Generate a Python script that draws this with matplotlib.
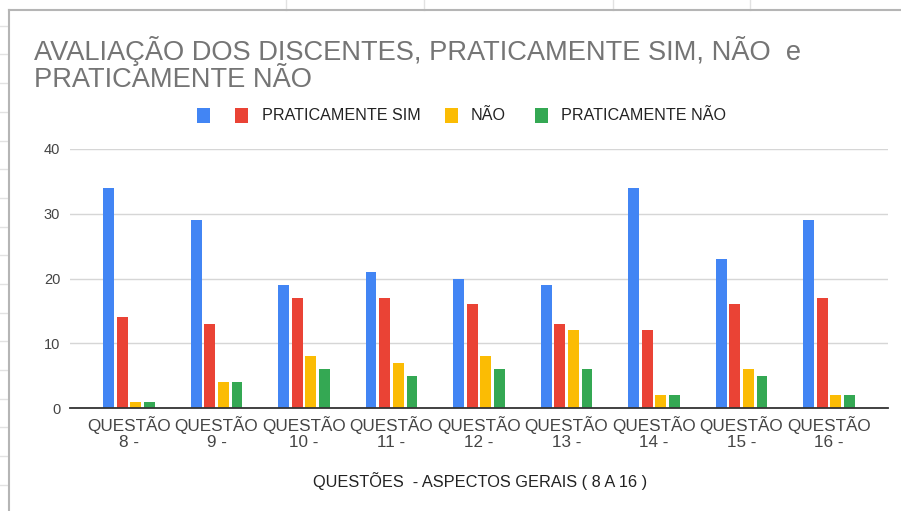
import matplotlib
matplotlib.use("Agg")
import matplotlib.pyplot as plt
import numpy as np
from matplotlib.patches import Rectangle

categories = ["QUESTÃO\n8 -", "QUESTÃO\n9 -", "QUESTÃO\n10 -", "QUESTÃO\n11 -",
              "QUESTÃO\n12 -", "QUESTÃO\n13 -", "QUESTÃO\n14 -", "QUESTÃO\n15 -",
              "QUESTÃO\n16 -"]
series_names = ["", "PRATICAMENTE SIM", "NÃO", "PRATICAMENTE NÃO"]
blue_vals = [34, 29, 19, 21, 20, 19, 34, 23, 29]
red_vals = [14, 13, 17, 17, 16, 13, 12, 16, 17]
yellow_vals = [1, 4, 8, 7, 8, 12, 2, 6, 2]
green_vals = [1, 4, 6, 5, 6, 6, 2, 5, 2]
colors = ["#4285F4", "#EA4335", "#FBBC04", "#34A853"]
yticks = [0, 10, 20, 30, 40]
title = "AVALIAÇÃO DOS DISCENTES, PRATICAMENTE SIM, NÃO  e\nPRATICAMENTE NÃO"
xlabel = "QUESTÕES  - ASPECTOS GERAIS ( 8 A 16 )"

plt.rcParams['font.family'] = ['Liberation Sans', 'DejaVu Sans']

W, H = 901, 511
fig = plt.figure(figsize=(W / 100, H / 100), dpi=100)
fig.patch.set_facecolor("white")

# background spreadsheet grid and chart border
bg = fig.add_axes([0, 0, 1, 1], zorder=-5)
bg.set_xlim(0, W)
bg.set_ylim(H, 0)
bg.axis("off")
for y in [25.7, 54.3, 83.3, 112.3, 140.7, 169.3, 198.3, 226.7, 255.3, 284,
          312.7, 341.3, 370, 398.7, 427.3, 456, 484.7]:
    bg.plot([0, 8], [y, y], color="#e2e2e2", lw=1)
for xx in [286, 424, 613, 750]:
    bg.plot([xx, xx], [0, 10], color="#e2e2e2", lw=1)
bg.plot([8.5, 8.5], [10, H], color="#b5b5b5", lw=1.5)
bg.plot([8.5, W], [10, 10], color="#b5b5b5", lw=1.5)

# legend (manual, Google Charts style)
leg_box_x = [197, 235, 445, 535]
leg_text_x = [None, 262, 471, 561]
for i, (name, c) in enumerate(zip(series_names, colors)):
    bg.add_patch(Rectangle((leg_box_x[i], 108), 13, 15, facecolor=c, edgecolor="none"))
    if name:
        bg.text(leg_text_x[i], 115.5, name, fontsize=11.6, color="#222222",
                ha="left", va="center")

# plot area
left, right, top, bottom = 70, 888, 149, 408
ax = fig.add_axes([left / W, (H - bottom) / H, (right - left) / W, (bottom - top) / H])
ax.set_facecolor("none")
x = np.arange(len(categories))
slot = 13.6 / 87.5
bw = 10.8 / 87.5
all_vals = [blue_vals, red_vals, yellow_vals, green_vals]
for i, (vals, c) in enumerate(zip(all_vals, colors)):
    ax.bar(x + (i - 1.5) * slot, vals, width=bw, color=c, zorder=3)

ax.set_xlim(-(129 - 70) / 87.5, 8 + (888 - 829) / 87.5)
ax.set_ylim(0, 40)
ax.set_yticks(yticks)
ax.set_yticklabels([str(t) for t in yticks])
ax.set_xticks(x)
ax.set_xticklabels(categories, linespacing=1.05, fontsize=12.3)
ax.tick_params(axis="both", length=0, colors="#444444")
ax.tick_params(axis="y", pad=7, labelsize=10.5)
ax.tick_params(axis="x", pad=6)
ax.grid(axis="y", color="#d6d6d6", lw=1, zorder=0)
for s in ["top", "right", "left"]:
    ax.spines[s].set_visible(False)
ax.spines["bottom"].set_color("#333333")
ax.spines["bottom"].set_linewidth(1.3)
ax.spines["bottom"].set_zorder(4)

fig.text(34 / W, 1 - 36 / H, title, fontsize=19.6, color="#757575",
         ha="left", va="top", linespacing=1.07)
fig.text(480 / W, 1 - 481 / H, xlabel, fontsize=11.8, color="#222222",
         ha="center", va="center")

fig.savefig("out.png", dpi=100)
